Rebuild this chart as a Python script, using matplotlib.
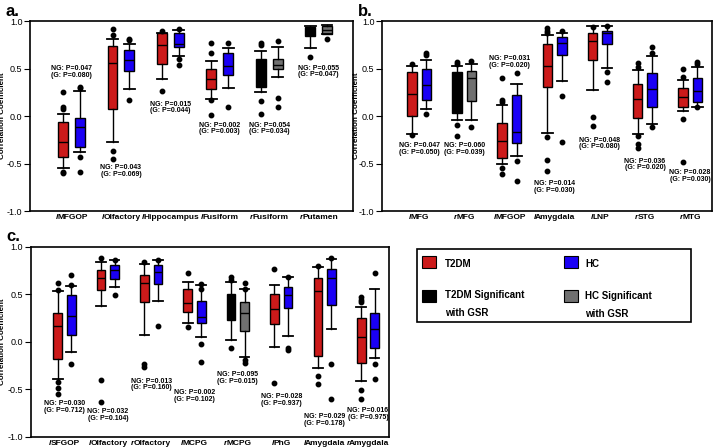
import matplotlib
matplotlib.use("Agg")
import matplotlib.pyplot as plt
from matplotlib.patches import Rectangle
from matplotlib.offsetbox import TextArea, HPacker, AnnotationBbox

plt.rcParams["font.family"] = ["Liberation Sans", "DejaVu Sans"]

RED, BLUE, BLACK, GRAY = "#CC1A1A", "#1A00F5", "#000000", "#707070"
W, H = 714, 448

# ---- panel a -------------------------------------------------------------
# region labels: (hemisphere prefix in italics, region name)
a_regions = [("l", "MFGOP"), ("l", "Olfactory"), ("l", "Hippocampus"),
             ("l", "Fusiform"), ("r", "Fusiform"), ("r", "Putamen")]
a_sig = [False, False, False, False, True, True]
# (whislo, q1, med, q3, whishi)
a_t2dm = [(-0.55, -0.43, -0.27, -0.067, 0.025), (-0.27, 0.077, 0.56, 0.74, 0.81),
          (0.39, 0.55, 0.75, 0.87, 0.87), (0.18, 0.28, 0.39, 0.49, 0.58),
          (0.25, 0.31, 0.45, 0.60, 0.68), (0.72, 0.84, 0.90, 0.94, 0.95)]
a_t2dm_out = [[0.25, 0.095, 0.077, -0.59, -0.60], [0.92, 0.85, -0.37, -0.455], [0.90, 0.26],
              [0.77, 0.66, 0.165, 0.01], [0.77, 0.75, 0.155, 0.025], [0.62]]
a_hc = [(-0.38, -0.33, -0.12, -0.02, 0.26), (0.28, 0.47, 0.59, 0.69, 0.76),
        (0.63, 0.73, 0.76, 0.87, 0.91), (0.30, 0.435, 0.53, 0.66, 0.72),
        (0.41, 0.49, 0.54, 0.60, 0.73), (0.86, 0.86, 0.91, 0.95, 0.96)]
a_hc_out = [[0.31, 0.30, -0.43, -0.59], [0.81, 0.80, 0.165], [0.92, 0.60, 0.54],
            [0.77, 0.095], [0.79, 0.19, 0.095], [0.81]]
a_ptext = ["NG: P=0.047\n(G: P=0.080)", "NG: P=0.043\n(G: P=0.069)", "NG: P=0.015\n(G: P=0.044)",
           "NG: P=0.002\n(G: P=0.003)", "NG: P=0.054\n(G: P=0.034)", "NG: P=0.055\n(G: P=0.047)"]
a_py = [0.46, -0.58, 0.09, -0.13, -0.13, 0.47]

# ---- panel b -------------------------------------------------------------
b_regions = [("l", "MFG"), ("r", "MFG"), ("l", "MFGOP"), ("l", "Amygdala"),
             ("l", "LNP"), ("r", "STG"), ("r", "MTG")]
b_sig = [False, True, False, False, False, False, False]
b_t2dm = [(-0.19, 0.0, 0.23, 0.46, 0.53), (-0.04, 0.03, 0.25, 0.46, 0.53),
          (-0.50, -0.44, -0.26, -0.07, 0.12), (-0.18, 0.31, 0.53, 0.76, 0.85),
          (0.27, 0.59, 0.79, 0.87, 0.945), (-0.19, -0.02, 0.18, 0.34, 0.48),
          (0.05, 0.10, 0.20, 0.29, 0.38)]
b_t2dm_out = [[0.55, -0.20], [0.57, 0.55, -0.09, -0.21], [0.40, 0.17, 0.15, -0.55, -0.61],
              [0.93, 0.90, 0.87, -0.22, -0.46, -0.58], [0.94, -0.01, -0.11],
              [0.56, 0.52, -0.21, -0.29, -0.34], [0.49, 0.41, -0.03, -0.48]]
b_hc = [(0.077, 0.165, 0.33, 0.50, 0.59), (-0.04, 0.155, 0.40, 0.47, 0.55),
        (-0.42, -0.28, -0.17, 0.22, 0.34), (0.365, 0.64, 0.77, 0.83, 0.87),
        (0.51, 0.76, 0.87, 0.90, 0.95), (-0.08, 0.095, 0.28, 0.45, 0.63),
        (0.10, 0.15, 0.26, 0.40, 0.52)]
b_hc_out = [[0.66, 0.64, 0.02], [0.58, -0.12], [0.45, -0.47, -0.68], [0.90, 0.21, -0.27],
            [0.95, 0.46, 0.36], [0.73, 0.66, -0.12], [0.57, 0.55, 0.095]]
b_ptext = ["NG: P=0.047\n(G: P=0.050)", "NG: P=0.060\n(G: P=0.039)", "NG: P=0.031\n(G: P=0.020)",
           "NG: P=0.014\n(G: P=0.030)", "NG: P=0.048\n(G: P=0.080)", "NG: P=0.036\n(G: P=0.020)",
           "NG: P=0.028\n(G: P=0.030)"]
b_py = [-0.35, -0.35, 0.57, -0.75, -0.29, -0.51, -0.63]

# ---- panel c -------------------------------------------------------------
c_regions = [("l", "SFGOP"), ("l", "Olfactory"), ("r", "Olfactory"), ("l", "MCPG"),
             ("r", "MCPG"), ("l", "PhG"), ("l", "Amygdala"), ("r", "Amygdala")]
c_sig = [False, False, False, False, True, False, False, False]
c_t2dm = [(-0.39, -0.18, 0.17, 0.30, 0.535), (0.38, 0.55, 0.67, 0.76, 0.84),
          (0.075, 0.42, 0.615, 0.70, 0.815), (0.195, 0.31, 0.405, 0.56, 0.63),
          (0.02, 0.23, 0.36, 0.50, 0.63), (-0.05, 0.185, 0.35, 0.50, 0.60),
          (-0.28, -0.145, 0.535, 0.67, 0.79), (-0.415, -0.225, 0.05, 0.255, 0.37)]
c_t2dm_out = [[0.615, 0.545, -0.42, -0.49, -0.55], [0.88, -0.40, -0.63], [0.84, -0.235, -0.27],
              [0.72, 0.16], [0.68, 0.65, -0.06], [0.765, -0.43], [0.80, -0.36, -0.445],
              [0.475, 0.44, 0.415, -0.51, -0.60]]
c_hc = [(-0.11, 0.07, 0.27, 0.49, 0.59), (0.58, 0.66, 0.76, 0.81, 0.86),
        (0.43, 0.61, 0.74, 0.81, 0.86), (0.055, 0.20, 0.265, 0.43, 0.60),
        (-0.155, 0.115, 0.30, 0.42, 0.555), (0.065, 0.36, 0.49, 0.58, 0.685),
        (0.135, 0.39, 0.675, 0.765, 0.87), (-0.17, -0.065, 0.135, 0.30, 0.56)]
c_hc_out = [[0.70, 0.60, -0.23], [0.86, 0.49], [0.86, 0.17], [0.605, 0.56, -0.025, -0.21],
            [0.62, 0.555, -0.19, -0.22], [0.685, -0.06, -0.085], [0.88, -0.235, -0.60],
            [0.72, -0.235, -0.39]]
c_ptext = ["NG: P=0.030\n(G: P=0.712)", "NG: P=0.032\n(G: P=0.104)", "NG: P=0.013\n(G: P=0.160)",
           "NG: P=0.002\n(G: P=0.102)", "NG: P=0.095\n(G: P=0.015)", "NG: P=0.028\n(G: P=0.937)",
           "NG: P=0.029\n(G: P=0.178)", "NG: P=0.016\n(G: P=0.975)"]
c_py = [-0.69, -0.77, -0.45, -0.57, -0.38, -0.61, -0.82, -0.76]

legend_labels = ["T2DM", "HC", "T2DM Significant\nwith GSR", "HC Significant\nwith GSR"]


def px(x, y):
    # pixel (from top-left) -> figure fraction
    return x / W, 1 - y / H


def stats(vals, out):
    lo, q1, med, q3, hi = vals
    return dict(whislo=lo, q1=q1, med=med, q3=q3, whishi=hi, fliers=out)


def region_label(ax, x, prefix, name):
    props = dict(fontsize=6.0, fontweight="bold", fontfamily="Liberation Sans")
    box = HPacker(children=[TextArea(prefix, textprops=dict(fontstyle="italic", **props)),
                            TextArea(name, textprops=props)],
                  align="baseline", pad=0, sep=-0.5)
    ab = AnnotationBbox(box, (x, 0), xycoords=ax.get_xaxis_transform(),
                        xybox=(0, -2), boxcoords="offset points",
                        box_alignment=(0.5, 1.0), frameon=False, pad=0,
                        annotation_clip=False)
    ax.add_artist(ab)


def draw_panel(ax, regions, sig, t2dm, t2dm_out, hc, hc_out, ptext, py, off, width, xlim, ylab_x):
    n = len(regions)
    pos = list(range(1, n + 1))
    for grp, outs, shift, base, sigc in [(t2dm, t2dm_out, -off, RED, BLACK),
                                         (hc, hc_out, off, BLUE, GRAY)]:
        st = [stats(v, o) for v, o in zip(grp, outs)]
        bp = ax.bxp(st, positions=[p + shift for p in pos], widths=width, patch_artist=True,
                    showfliers=True,
                    boxprops=dict(edgecolor="black", linewidth=1.0),
                    medianprops=dict(color="black", linewidth=1.0),
                    whiskerprops=dict(color="black", linewidth=1.0),
                    capprops=dict(color="black", linewidth=1.3),
                    flierprops=dict(marker="o", markerfacecolor="black", markeredgecolor="black",
                                    markersize=3.2))
        for box, s in zip(bp["boxes"], sig):
            box.set_facecolor(sigc if s else base)
        for cap in bp["caps"]:
            x0, x1 = cap.get_xdata()
            c = (x0 + x1) / 2
            cap.set_xdata([c - width * 0.55, c + width * 0.55])
    for p, t, y in zip(pos, ptext, py):
        ax.text(p, y, t, ha="center", va="center", fontsize=5.0, fontweight="bold",
                linespacing=0.95)
    ax.set_xlim(*xlim)
    ax.set_ylim(-1.0, 1.0)
    ax.set_yticks([-1.0, -0.5, 0.0, 0.5, 1.0])
    ax.set_yticklabels(["-1.0", "-0.5", "0.0", "0.5", "1.0"], fontsize=6.5)
    ax.set_xticks(pos)
    ax.set_xticklabels([])
    for p, (pre, name) in zip(pos, regions):
        region_label(ax, p, pre, name)
    ax.tick_params(axis="x", length=0)
    ax.tick_params(axis="y", length=4, width=0.8, pad=1.5)
    ax.set_ylabel("Correlation Coefficient", fontsize=5.8, fontweight="bold")
    ax.yaxis.set_label_coords(ylab_x, 0.5)
    for sp in ax.spines.values():
        sp.set_linewidth(1.2)


fig = plt.figure(figsize=(W / 100, H / 100), dpi=100)
ax_a = fig.add_axes([0.042, 0.529, 0.452, 0.424])
ax_b = fig.add_axes([0.535, 0.529, 0.462, 0.424])
ax_c = fig.add_axes([0.043, 0.025, 0.502, 0.424])

draw_panel(ax_a, a_regions, a_sig, a_t2dm, a_t2dm_out, a_hc, a_hc_out, a_ptext, a_py,
           0.17, 0.2, (0.16, 6.69), -0.075)
draw_panel(ax_b, b_regions, b_sig, b_t2dm, b_t2dm_out, b_hc, b_hc_out, b_ptext, b_py,
           0.16, 0.21, (0.18, 7.48), -0.068)
draw_panel(ax_c, c_regions, c_sig, c_t2dm, c_t2dm_out, c_hc, c_hc_out, c_ptext, c_py,
           0.155, 0.2, (0.22, 8.49), -0.068)

# panel tags
for tag, (x, y) in [("a.", (6, 16)), ("b.", (358, 16)), ("c.", (6, 241))]:
    fig.text(*px(x, y), tag, fontsize=12, fontweight="bold", ha="left", va="baseline")

# legend drawn by hand so the box matches the reference frame
x0, y0 = px(417, 322)
x1, y1 = px(691, 249)
fig.patches.append(Rectangle((x0, y0), x1 - x0, y1 - y0, transform=fig.transFigure,
                             facecolor="white", edgecolor="black", linewidth=1.2))
leg_colors = [RED, BLUE, BLACK, GRAY]
leg_sq = [(422, 256), (564, 256), (422, 290), (564, 290)]
leg_txt = [(445, 263), (585, 263), (445, 294), (585, 295)]
for col, (sx, sy), (tx, ty), lab in zip(leg_colors, leg_sq, leg_txt, legend_labels):
    bx, by = px(sx, sy + 12)
    fig.patches.append(Rectangle((bx, by), 14 / W, 12 / H, transform=fig.transFigure,
                                 facecolor=col, edgecolor="black", linewidth=0.8))
    fig.text(*px(tx, ty - 4), lab, fontsize=7, fontweight="bold", ha="left", va="top",
             linespacing=2.0)

fig.savefig("out.png", dpi=100)
